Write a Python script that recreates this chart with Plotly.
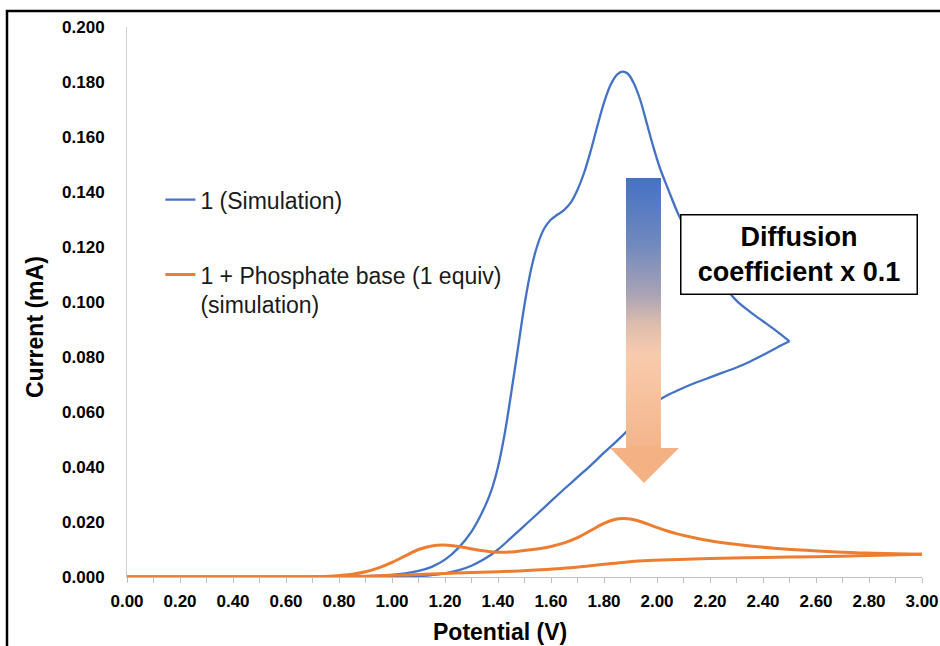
import plotly.graph_objects as go

# ---- data ----
blue_fwd_x = [0.00, 0.20, 0.40, 0.60, 0.70, 0.80, 0.90, 1.000, 1.050, 1.100, 1.150, 1.200, 1.250, 1.300, 1.350,
              1.375, 1.400, 1.425, 1.450, 1.475, 1.500, 1.525, 1.550, 1.575, 1.600, 1.625, 1.650, 1.675, 1.700,
              1.725, 1.750, 1.775, 1.800, 1.825, 1.850, 1.870, 1.890, 1.910, 1.935, 1.960, 1.985, 2.010, 2.040,
              2.080, 2.120, 2.160, 2.200, 2.250, 2.300, 2.350, 2.400, 2.450, 2.500]
blue_fwd_y = [0.0, 0.0, 0.0, 0.0, 0.0, 0.0001, 0.0003, 0.0008, 0.0013, 0.0022, 0.0037, 0.0063, 0.0105, 0.0165, 0.0255,
              0.0315, 0.0400, 0.0520, 0.0670, 0.0830, 0.0990, 0.1120, 0.1210, 0.1268, 0.1300, 0.1318, 0.1335, 0.1362, 0.1408,
              0.1470, 0.1550, 0.1640, 0.1725, 0.1790, 0.1828, 0.1838, 0.1830, 0.1800, 0.1740, 0.1655, 0.1568, 0.1490, 0.1415,
              0.1320, 0.1245, 0.1185, 0.1130, 0.1062, 0.1005, 0.0965, 0.0930, 0.0895, 0.0857]

blue_rev_x = [2.500, 2.450, 2.400, 2.350, 2.300, 2.250, 2.200, 2.150, 2.100, 2.050, 2.000, 1.950, 1.900, 1.850,
              1.800, 1.750, 1.700, 1.650, 1.600, 1.550, 1.500, 1.450, 1.400, 1.350, 1.300, 1.250, 1.200, 1.150,
              1.100, 1.000, 0.800, 0.400, 0.000]
blue_rev_y = [0.0857, 0.0833, 0.0807, 0.0783, 0.0762, 0.0744, 0.0726, 0.0708, 0.0688, 0.0666, 0.0638, 0.0596, 0.0543, 0.0496,
              0.0452, 0.0406, 0.0363, 0.0320, 0.0276, 0.0231, 0.0187, 0.0143, 0.0100, 0.0066, 0.0041, 0.0024, 0.0013, 0.0007,
              0.0003, 0.0001, 0.0, 0.0, 0.0]

orange_fwd_x = [0.00, 0.40, 0.60, 0.70, 0.78, 0.85, 0.90, 0.95, 1.00, 1.05, 1.10, 1.15, 1.19, 1.23, 1.28,
                1.33, 1.38, 1.42, 1.47, 1.52, 1.56, 1.60, 1.65, 1.70, 1.75, 1.80, 1.84, 1.87, 1.90, 1.94,
                1.98, 2.03, 2.08, 2.14, 2.20, 2.28, 2.36, 2.44, 2.54, 2.66, 2.79, 2.90, 3.00]
orange_fwd_y = [0.0, 0.0, 0.0, 0.0001, 0.0004, 0.0010, 0.0019, 0.0033, 0.0053, 0.0077, 0.0100, 0.0113, 0.0116, 0.0114, 0.0106,
                0.0097, 0.0091, 0.0090, 0.0093, 0.0099, 0.0104, 0.0111, 0.0124, 0.0143, 0.0169, 0.0195, 0.0209, 0.0213, 0.0211, 0.0201,
                0.0187, 0.0170, 0.0156, 0.0143, 0.0132, 0.0121, 0.0112, 0.0105, 0.0098, 0.0092, 0.0087, 0.0085, 0.0083]

orange_rev_x = [3.00, 2.80, 2.60, 2.40, 2.20, 2.05, 1.95, 1.88, 1.80, 1.72, 1.64, 1.56, 1.48, 1.40, 1.30,
                1.20, 1.10, 1.00, 0.90, 0.80, 0.70, 0.00]
orange_rev_y = [0.0083, 0.0078, 0.0074, 0.0071, 0.0067, 0.0063, 0.0059, 0.0054, 0.0046, 0.0038, 0.0031, 0.0026, 0.0022, 0.0019, 0.0016,
                0.0013, 0.0009, 0.0006, 0.0003, 0.0001, 0.0, 0.0]

series_names = ["1 (Simulation)", "1 + Phosphate base (1 equiv)<br>(simulation)"]
series_colors = ["#4472C4", "#ED7D31"]
x_title = "Potential (V)"
y_title = "Current (mA)"
box_text = "Diffusion<br>coefficient x 0.1"

# annotation arrow outline (decoration, in axis units)
arrow_x = [1.883, 2.015, 2.015, 2.083, 1.951, 1.823, 1.883, 1.883]
arrow_y = [0.1451, 0.1451, 0.0469, 0.0469, 0.0342, 0.0469, 0.0469, 0.1451]

FONT = "Liberation Sans, Arial, sans-serif"

fig = go.Figure()

for i, (fx, fy, rx, ry, w) in enumerate([
        (blue_fwd_x, blue_fwd_y, blue_rev_x, blue_rev_y, 2.3),
        (orange_fwd_x, orange_fwd_y, orange_rev_x, orange_rev_y, 3.0)]):
    fig.add_trace(go.Scatter(x=fx, y=fy, mode="lines", name=series_names[i],
                             legendgroup=f"g{i}", cliponaxis=False,
                             line=dict(color=series_colors[i], width=w, shape="spline", smoothing=1.0)))
    fig.add_trace(go.Scatter(x=rx, y=ry, mode="lines", name=series_names[i],
                             legendgroup=f"g{i}", showlegend=False, cliponaxis=False,
                             line=dict(color=series_colors[i], width=w, shape="spline", smoothing=1.0)))

fig.add_trace(go.Scatter(
    x=arrow_x, y=arrow_y, mode="lines", fill="toself", showlegend=False, hoverinfo="skip",
    line=dict(width=0, color="rgba(0,0,0,0)"),
    fillgradient=dict(type="vertical",
                      colorscale=[[0.0, "#F4B183"], [0.115, "#F4B183"], [0.13, "#F4B68C"],
                                  [0.42, "#F8CBAD"], [0.52, "#DDBDAE"], [0.62, "#A9A3B5"],
                                  [0.78, "#7189BE"], [1.0, "#4472C4"]])))

fig.update_layout(
    width=940, height=646, autosize=False,
    margin=dict(l=127, r=18, t=27, b=69),
    paper_bgcolor="white", plot_bgcolor="white",
    font=dict(family=FONT, color="black"),
    showlegend=True,
    legend=dict(x=0.042, y=0.725, xanchor="left", yanchor="top",
                bgcolor="rgba(0,0,0,0)", valign="top", tracegroupgap=42,
                font=dict(family=FONT, size=23, color="#1a1a1a"), itemwidth=30),
    xaxis=dict(range=[0, 3], tick0=0, dtick=0.2, tickformat=".2f", automargin=False,
               showline=True, linecolor="#BFBFBF", linewidth=1, layer="below traces",
               ticks="outside", ticklen=5, tickcolor="#BFBFBF", tickwidth=1,
               minor=dict(dtick=0.1, ticks="outside", ticklen=5, tickcolor="#BFBFBF", tickwidth=1),
               showgrid=False, zeroline=False, ticklabelstandoff=4,
               tickfont=dict(family=FONT, size=17, color="black", weight="bold")),
    yaxis=dict(range=[0, 0.2], tick0=0, dtick=0.02, tickformat=".3f", automargin=False,
               showline=True, linecolor="#D0D0D0", linewidth=1, layer="below traces",
               ticks="", showgrid=False, zeroline=False, ticklabelstandoff=18,
               tickfont=dict(family=FONT, size=17, color="black", weight="bold")),
    annotations=[
        dict(text=box_text, xref="paper", yref="paper",
             x=0.8453, y=0.5864, xanchor="center", yanchor="middle", showarrow=False,
             align="center", width=231, height=74, borderpad=2,
             bgcolor="white", bordercolor="black", borderwidth=1.5,
             font=dict(family=FONT, size=27, color="black", weight="bold")),
        dict(text=x_title, xref="paper", yref="paper", x=(500 - 127) / 795, y=(577 - 632) / 550,
             xanchor="center", yanchor="middle", showarrow=False,
             font=dict(family=FONT, size=23, color="black", weight="bold")),
        dict(text=y_title, xref="paper", yref="paper", x=(35 - 127) / 795, y=(577 - 327) / 550,
             xanchor="center", yanchor="middle", showarrow=False, textangle=-90,
             font=dict(family=FONT, size=23, color="black", weight="bold")),
    ],
    shapes=[dict(type="rect", xref="paper", yref="paper",
                 x0=(7 - 127) / 795, x1=(950 - 127) / 795,
                 y0=(577 - 660) / 550, y1=(577 - 11) / 550,
                 line=dict(color="black", width=2.5), fillcolor="rgba(0,0,0,0)", layer="above")],
)

fig.write_html("out.html")
